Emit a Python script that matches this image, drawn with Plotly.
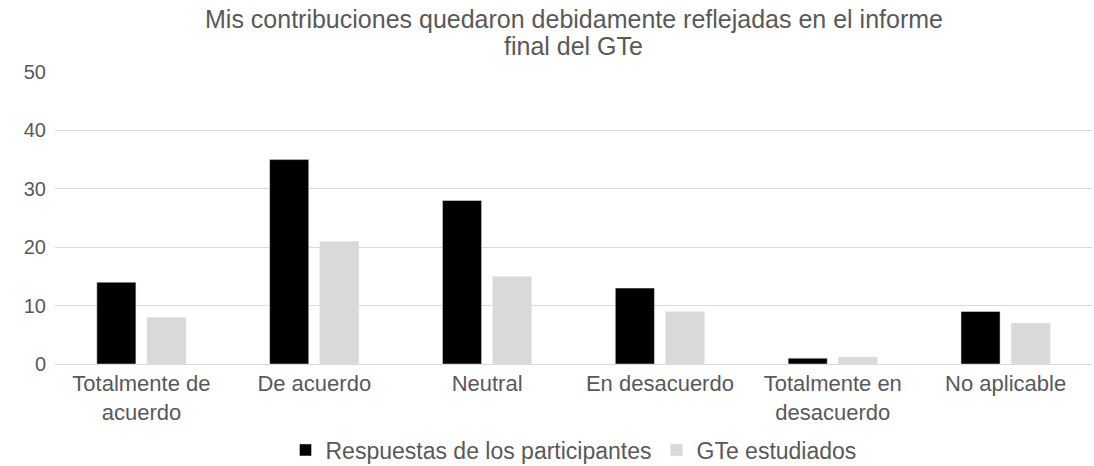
import plotly.graph_objects as go

categories = ["Totalmente de<br>acuerdo", "De acuerdo", "Neutral", "En desacuerdo",
              "Totalmente en<br>desacuerdo", "No aplicable"]
respuestas = [14, 35, 28, 13, 1, 9]
gte = [8, 21, 15, 9, 1.2, 7]
y_ticks = [0, 10, 20, 30, 40, 50]
title_lines = ["Mis contribuciones quedaron debidamente reflejadas en el informe",
               "final del GTe"]

TOP, BOTTOM, H = 72, 102, 466
plot_h = H - TOP - BOTTOM

fig = go.Figure()
fig.add_trace(go.Bar(x=categories, y=respuestas, name="Respuestas de los participantes",
                     marker_color="#000000"))
fig.add_trace(go.Bar(x=categories, y=gte, name="GTe estudiados",
                     marker_color="#d9d9d9"))

for px, line in zip([19, 46], title_lines):
    fig.add_annotation(text=line, xref="paper", x=0.5, xanchor="center",
                       yref="paper", y=(H - BOTTOM - px) / plot_h, yanchor="middle",
                       showarrow=False, font=dict(size=25, color="#595959"))

fig.update_layout(
    width=1094, height=H,
    paper_bgcolor="white", plot_bgcolor="white",
    font=dict(family="Liberation Sans, Arial", color="#595959", size=20),
    margin=dict(l=55, r=2, t=TOP, b=BOTTOM, autoexpand=False),
    barmode="group", bargap=0.42, bargroupgap=0.22,
    showlegend=True,
    legend=dict(orientation="h", x=0.5, xanchor="center", xref="paper",
                yref="container", y=16 / H, yanchor="middle",
                font=dict(size=23, color="#595959"),
                traceorder="normal"),
)
fig.update_yaxes(range=[0, 50], tickvals=y_ticks, showgrid=True, gridcolor="#d9d9d9",
                 zeroline=False, showline=False, ticks="", ticklen=0,
                 tickfont=dict(size=20, color="#595959"), ticklabelstandoff=8)
fig.update_xaxes(showline=True, linecolor="#d9d9d9", linewidth=1, ticks="",
                 tickfont=dict(size=22, color="#595959"))

fig.write_html("out.html", config={"displayModeBar": False},
               post_script="document.body.style.margin='0';document.body.style.padding='0';")
